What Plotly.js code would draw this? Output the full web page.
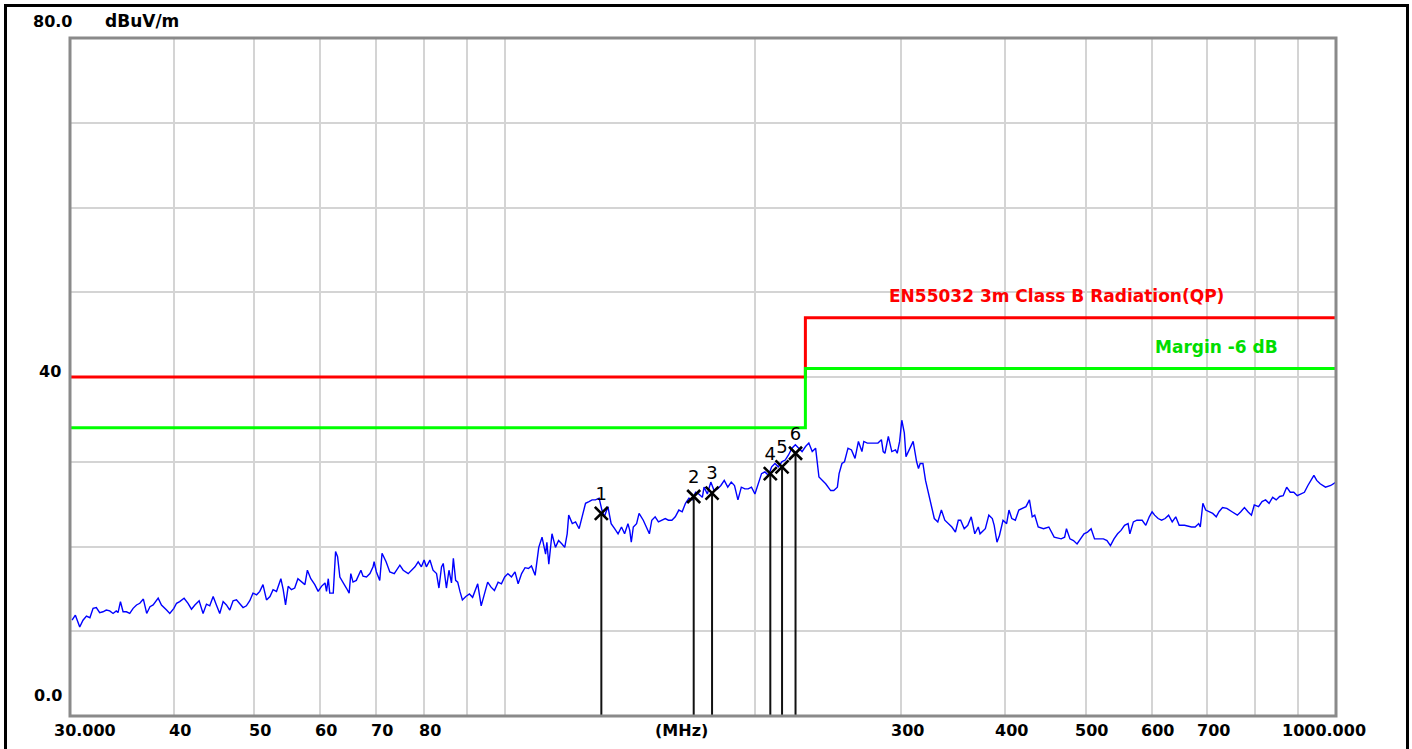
<!DOCTYPE html>
<html><head><meta charset="utf-8">
<script src="https://cdn.plot.ly/plotly-3.0.1.min.js"></script>
<style>
html,body{margin:0;padding:0;background:#fff;overflow:hidden}
#chart{width:1412px;height:749px}
#frame{position:absolute;left:4px;top:4px;width:1399px;height:800px;border:3px solid #000;pointer-events:none}
</style></head><body>
<div id="chart"></div><div id="frame"></div>
<script>
// Measured trace: frequency (MHz) and level (dBuV/m)
const freqMHz = [
30.17,30.45,30.82,31.1,31.4,31.7,31.98,32.27,32.57,32.87,33.17,33.49,33.8,34.1,34.27,34.5,34.75,35.07,35.4,35.73,
36.07,36.4,36.76,37.1,37.44,37.77,38.3,38.65,39.2,39.55,40.0,40.3,40.65,41.15,41.6,42.0,42.4,42.9,43.37,43.78,
44.18,44.6,45.0,45.42,45.85,46.27,46.7,47.13,47.57,48.0,48.45,48.9,49.36,49.8,50.3,50.75,51.2,51.7,52.2,52.65,
53.15,53.8,54.15,54.5,54.9,55.4,55.9,56.4,56.95,57.5,57.9,58.45,59.1,59.65,60.2,60.8,61.05,61.35,61.6,62.2,
62.6,62.95,63.35,63.95,64.5,65.0,65.3,65.7,66.3,67.15,67.55,68.2,68.85,69.45,69.65,70.1,70.75,71.2,72.0,72.75,
73.65,74.8,75.5,76.55,77.25,78.0,78.7,79.4,80.0,80.5,81.3,82.0,82.8,83.35,83.95,84.35,85.1,85.7,86.3,86.75,
87.3,87.8,88.35,88.95,89.8,
90.7,91.5,92.8,93.7,94.6,95.4,96.3,97.2,98.2,99.1,100.0,100.9,101.9,102.9,103.8,104.8,105.8,106.8,107.7,108.8,
109.9,110.9,112.0,112.4,113.0,114.0,115.1,116.1,117.2,118.1,118.9,119.4,120.6,121.7,122.9,124.0,125.1,126.3,127.4,128.6,
129.9,130.9,131.8,133.1,134.3,135.6,136.9,138.2,139.4,140.7,141.4,142.0,142.8,144.1,145.1,146.8,148.2,149.3,150.3,151.7,
153.1,154.5,156.0,157.4,158.9,160.4,162.0,163.5,165.0,166.6,168.1,169.7,171.2,172.9,173.7,175.3,177.0,178.6,180.3,182.0,
183.7,185.5,187.3,189.0,190.8,192.6,194.5,196.3,198.1,200.0,201.8,203.7,205.6,207.6,209.5,211.4,213.4,215.5,217.5,219.5,
221.6,223.7,225.8,227.9,230.1,232.2,234.4,236.6,238.8,241.1,243.3,246.7,
248.8,251.3,252.5,254.5,256.3,258.8,261.3,263.9,266.4,269.0,270.4,273.0,275.6,278.4,281.2,283.9,285.3,286.7,289.4,292.2,
295.2,296.6,298.6,300.4,302.5,303.9,306.9,310.0,313.0,314.6,316.1,318.5,320.8,323.9,327.1,328.7,331.9,335.2,338.4,341.7,
345.1,348.5,351.3,353.6,357.1,360.6,364.1,367.7,371.3,373.1,376.8,378.6,382.3,386.0,388.0,391.0,393.7,397.6,401.6,404.2,
407.4,411.4,415.4,419.5,423.7,427.8,431.1,434.1,438.3,444.8,451.4,458.1,467.1,471.6,474.0,478.6,483.3,488.1,492.8,497.6,
502.5,507.5,512.3,517.4,525.1,530.3,535.4,540.7,546.1,551.3,556.7,562.2,565.0,570.5,576.1,584.6,590.5,596.2,600.9,605.1,
611.0,616.9,623.0,629.0,635.3,641.5,647.7,657.4,670.2,677.0,683.6,686.7,691.6,697.0,703.7,710.8,717.7,723.2,730.3,739.0,
749.7,760.9,768.2,776.0,783.6,791.2,797.4,806.9,814.8,822.8,830.8,839.1,847.3,855.5,863.9,872.3,881.0,889.6,898.3,907.0,
916.2,925.1,934.1,940.6,948.0,957.1,971.3,985.6,1000
];
const levelDb = [
11.3,11.9,10.5,11.3,11.8,11.6,12.7,12.8,12.2,12.3,12.5,12.4,12.1,12.4,12.2,13.5,12.3,12.3,12.1,12.7,
13.1,13.3,13.8,12.1,12.9,13.1,13.9,13.1,12.5,12.1,12.7,13.3,13.5,13.9,13.3,12.6,13.1,13.6,12.1,13.2,
13.0,14.1,13.1,12.1,13.5,13.1,12.5,13.6,13.7,13.2,12.8,13.0,13.6,14.5,14.3,14.7,15.5,13.7,14.1,14.9,
14.7,16.2,14.9,13.1,15.3,14.9,15.1,16.2,15.8,15.5,17.2,16.2,15.5,14.7,15.3,15.7,14.7,16.2,14.5,14.5,
19.4,18.8,16.4,15.8,15.1,14.5,16.8,15.8,16.0,17.2,16.5,16.4,16.8,17.6,18.2,17.0,16.0,19.2,18.2,17.0,
16.8,17.8,17.2,16.8,17.2,17.6,18.2,17.6,18.4,17.6,18.4,17.2,16.8,15.1,17.6,18.0,15.1,17.2,15.7,18.6,
16.0,15.8,14.7,13.7,14.1,
14.4,14.0,15.6,13.0,14.4,15.8,15.2,14.8,15.8,15.6,16.4,16.8,16.4,17.0,15.6,16.8,17.5,17.4,17.7,16.6,
19.9,21.1,19.1,20.5,17.9,21.5,19.9,20.7,20.3,19.9,21.5,23.7,22.7,22.9,22.1,23.5,25.1,25.3,25.5,25.5,
25.7,24.3,23.5,24.7,22.7,22.1,21.5,22.3,21.5,22.7,21.9,20.5,22.3,22.7,23.9,23.1,22.3,21.5,23.1,23.5,
22.9,23.1,23.3,23.1,23.1,23.5,24.3,24.1,25.1,25.7,25.5,26.4,26.2,25.8,27.0,26.2,27.6,26.6,26.8,27.2,
27.8,27.0,27.6,27.2,25.5,27.0,26.8,26.8,27.0,26.2,27.4,28.6,28.8,28.4,29.4,29.8,29.4,30.0,30.2,30.8,
31.6,32.0,31.6,31.2,31.8,32.2,31.2,31.6,28.2,27.8,27.4,26.6,
26.6,27.0,28.6,29.8,30.0,31.6,31.4,30.4,32.4,31.2,32.4,32.2,32.2,32.2,32.2,32.6,31.2,31.0,33.0,31.2,
31.4,31.0,32.4,34.9,33.4,30.6,31.6,32.4,30.0,29.2,29.8,29.8,27.8,26.0,24.5,23.3,22.9,24.3,23.1,22.7,
22.3,21.7,23.1,23.1,22.1,22.5,23.5,21.5,22.3,21.5,21.9,22.1,23.7,23.3,22.5,20.5,21.3,23.1,22.7,24.3,
23.3,23.1,24.3,24.5,24.7,25.5,23.5,23.7,22.3,22.1,22.3,21.1,20.9,21.1,22.1,20.9,20.7,20.3,20.9,21.5,
21.7,22.1,20.9,20.9,20.9,20.7,20.1,20.9,21.5,21.9,22.5,22.7,21.5,22.9,23.1,23.1,22.5,23.5,24.1,23.7,
23.3,23.1,23.3,23.7,22.9,23.5,22.5,22.5,22.3,22.3,22.7,22.3,25.1,24.3,24.1,23.9,23.5,24.1,24.6,24.5,
24.1,23.7,24.1,24.6,24.1,23.7,24.9,24.7,25.3,25.5,25.1,25.8,25.5,25.9,26.0,27.0,26.4,26.4,26.0,26.2,
26.4,27.2,28.0,28.4,27.8,27.4,27.0,27.2,27.6
];

// Limit lines (EN55032 3m Class B QP) and margin
const limitFreq = [30, 230, 230, 1000];
const limitDb = [40, 40, 47, 47];
const marginDb = [34, 34, 41, 41];
const limitName = 'EN55032 3m Class B Radiation(QP)';
const marginName = 'Margin -6 dB';

// Peak markers
const markerFreq = [130.7, 168.8, 177.6, 208.7, 215.6, 223.8];
const markerDb = [23.9, 25.9, 26.3, 28.6, 29.4, 31.0];
const markerLabel = ['1', '2', '3', '4', '5', '6'];

// Axis ticks
const xGridVals = [30,40,50,60,70,80,90,100,200,300,400,500,600,700,800,900,1000];
const xLabelVals = [30,40,50,60,70,80,300,400,500,600,700,1000];
const xLabelText = ['30.000','40','50','60','70','80','300','400','500','600','700','1000.000'];
const yGridVals = [0,10,20,30,40,50,60,70,80];
const yLabelVals = [80, 40, 0];
const yLabelText = ['80.0', '40', '0.0'];
const yUnit = 'dBuV/m';
const xUnit = '(MHz)';

const FONT = 'DejaVu Sans, Verdana, sans-serif';
const bold = (s) => '<b>' + s + '</b>';

// vertical marker lines built from marker arrays
const vx = [], vy = [];
markerFreq.forEach((f, i) => { vx.push(f, f, null); vy.push(0, markerDb[i], null); });

const traces = [
  {x: limitFreq, y: limitDb, mode: 'lines', line: {color: '#ff0000', width: 3}, hoverinfo: 'skip'},
  {x: limitFreq, y: marginDb, mode: 'lines', line: {color: '#00ff00', width: 3}, hoverinfo: 'skip'},
  {x: freqMHz, y: levelDb, mode: 'lines', line: {color: '#0000ff', width: 1.4}},
  {x: vx, y: vy, mode: 'lines', line: {color: '#111111', width: 2}, hoverinfo: 'skip'},
  {x: markerFreq, y: markerDb, mode: 'markers+text', text: markerLabel, textposition: 'top center',
   textfont: {family: FONT, size: 18, color: '#000'},
   marker: {symbol: 'x-thin', size: 13, color: '#000', line: {color: '#000', width: 2.6}}}
];

const annotations = [];
xLabelVals.forEach((v, i) => {
  const a = {xref: 'x', yref: 'paper', x: Math.log10(v), y: 0, yanchor: 'top', xanchor: 'center',
    xshift: 6, yshift: -3, text: bold(xLabelText[i]), showarrow: false,
    font: {family: FONT, size: 16, color: '#000'}};
  if (i === 0) { a.xanchor = 'left'; a.xshift = -18; }
  if (i === xLabelVals.length - 1) { a.xanchor = 'right'; a.xshift = 32; }
  annotations.push(a);
});
annotations.push({xref: 'paper', yref: 'paper', x: 0.4834, y: 0, yanchor: 'top', xanchor: 'center',
  yshift: -3, text: bold(xUnit), showarrow: false, font: {family: FONT, size: 16, color: '#000'}});
const yShifts = [17, 6, 21];
const xShifts = [4, -7, -6];
yLabelVals.forEach((v, i) => {
  annotations.push({xref: 'paper', yref: 'y', x: 0, y: v, xanchor: 'right', yanchor: 'middle',
    xshift: xShifts[i], yshift: yShifts[i], text: bold(yLabelText[i]), showarrow: false,
    font: {family: FONT, size: 16, color: '#000'}});
});
annotations.push({xref: 'paper', yref: 'y', x: 0, y: 80, xanchor: 'left', yanchor: 'middle',
  xshift: 33, yshift: 17, text: bold(yUnit), showarrow: false, font: {family: FONT, size: 17, color: '#000'}});
annotations.push({xref: 'paper', yref: 'y', x: 0.7795, y: limitDb[3], xanchor: 'center', yanchor: 'middle',
  yshift: 22, text: bold(limitName), showarrow: false, font: {family: FONT, size: 17, color: '#ff0000'}});
annotations.push({xref: 'paper', yref: 'y', x: 0.906, y: marginDb[3], xanchor: 'center', yanchor: 'middle',
  yshift: 22, text: bold(marginName), showarrow: false, font: {family: FONT, size: 17, color: '#00dd00'}});

const layout = {
  width: 1412, height: 749,
  margin: {l: 70, r: 76, t: 38, b: 33},
  paper_bgcolor: '#ffffff', plot_bgcolor: '#ffffff',
  showlegend: false,
  xaxis: {type: 'log', range: [Math.log10(30), 3], tickvals: xGridVals, showticklabels: false,
    showgrid: true, gridcolor: '#d4d4d4', gridwidth: 2, zeroline: false, showline: false, ticks: ''},
  yaxis: {range: [0, 80], tickvals: yGridVals, showticklabels: false,
    showgrid: true, gridcolor: '#d4d4d4', gridwidth: 2, zeroline: false, showline: false, ticks: ''},
  shapes: [
    {type: 'rect', xref: 'paper', yref: 'paper', x0: 0, x1: 1, y0: 0, y1: 1,
     line: {color: '#8a8a8a', width: 3}, layer: 'above'}
  ],
  annotations: annotations
};

Plotly.newPlot('chart', traces, layout, {staticPlot: true, displayModeBar: false});
</script>
</body></html>
